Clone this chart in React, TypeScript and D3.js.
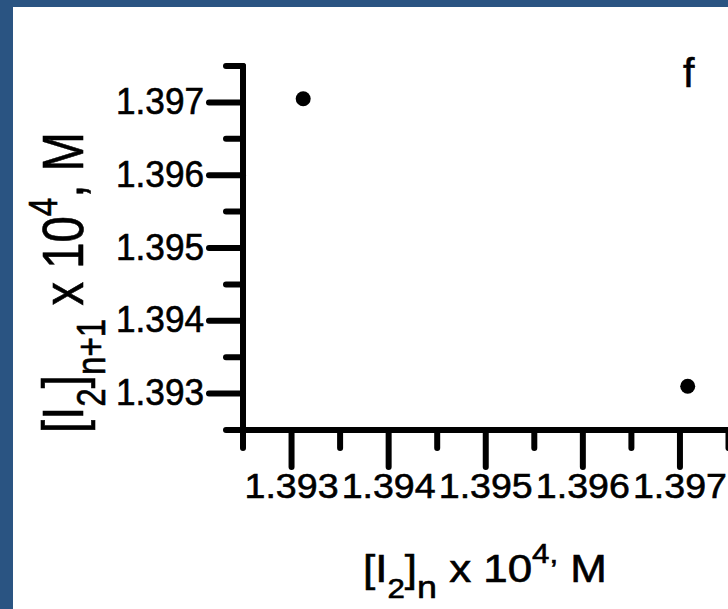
import React, { useEffect, useRef } from "react";
import * as d3 from "d3";

const W = 728;
const H = 609;

const majorTicks = [1.393, 1.394, 1.395, 1.396, 1.397];
const minorTicks = [1.3925, 1.3935, 1.3945, 1.3955, 1.3965, 1.3975];
const xTickLabels = ["1.393", "1.394", "1.395", "1.396", "1.397"];
const yTickLabels = ["1.393", "1.394", "1.395", "1.396", "1.397"];
const xValues = [1.39312, 1.39708];
const yValues = [1.39705, 1.3931];
const panelLabel = "f";

export default function App() {
  const ref = useRef<SVGSVGElement | null>(null);

  useEffect(() => {
    const svg = d3.select(ref.current);
    svg.selectAll("*").remove();
    const font = "'Liberation Sans', Arial, sans-serif";

    svg.append("rect").attr("width", W).attr("height", H).attr("fill", "#2a5482");
    svg.append("rect").attr("x", 13).attr("y", 7).attr("width", W - 13).attr("height", H - 7).attr("fill", "#ffffff");

    const x = d3.scaleLinear().domain([1.3925, 1.3975]).range([243, 728.5]);
    const y = d3.scaleLinear().domain([1.3925, 1.3975]).range([430, 66]);
    const x0 = x(1.3925);
    const y0 = y(1.3925);

    const g = svg.append("g").attr("stroke", "#000").attr("stroke-linecap", "round").attr("stroke-width", 6);
    g.append("line").attr("x1", x0).attr("x2", x0).attr("y1", y(1.3975)).attr("y2", y0);
    g.append("line").attr("x1", x0).attr("x2", x(1.3975)).attr("y1", y0).attr("y2", y0);
    majorTicks.forEach((v) => {
      g.append("line").attr("x1", x0 - 34).attr("x2", x0).attr("y1", y(v)).attr("y2", y(v));
      g.append("line").attr("x1", x(v)).attr("x2", x(v)).attr("y1", y0).attr("y2", y0 + 37);
    });
    minorTicks.forEach((v) => {
      g.append("line").attr("x1", x0 - 17).attr("x2", x0).attr("y1", y(v)).attr("y2", y(v));
      g.append("line").attr("x1", x(v)).attr("x2", x(v)).attr("y1", y0).attr("y2", y0 + 18);
    });

    const txt = (sel: any) =>
      sel.attr("font-family", font).attr("fill", "#000").attr("stroke", "#000").attr("stroke-width", 0.6);

    yTickLabels.forEach((t, i) => {
      txt(svg.append("text")).attr("x", 204).attr("y", y(majorTicks[i]) + 11.5)
        .attr("text-anchor", "end").attr("font-size", 36.5)
        .attr("textLength", 88).attr("lengthAdjust", "spacingAndGlyphs").text(t);
    });
    xTickLabels.forEach((t, i) => {
      txt(svg.append("text")).attr("x", x(majorTicks[i])).attr("y", 497.5)
        .attr("text-anchor", "middle").attr("font-size", 35.5)
        .attr("textLength", 94).attr("lengthAdjust", "spacingAndGlyphs").text(t);
    });

    svg.selectAll("circle.pt").data(xValues).enter().append("circle")
      .attr("cx", (d) => x(d)).attr("cy", (_d, i) => y(yValues[i])).attr("r", 7.5).attr("fill", "#000");

    txt(svg.append("text")).attr("x", 683).attr("y", 87).attr("font-size", 41).text(panelLabel);

    // x title
    const xt = txt(svg.append("text")).attr("font-size", 38).attr("text-anchor", "middle");
    xt.append("tspan").text("[I");
    xt.append("tspan").attr("font-size", 27).attr("dy", 16).text("2");
    xt.append("tspan").attr("dy", -16).text("]");
    xt.append("tspan").attr("font-size", 31).attr("dy", 16).text("n");
    xt.append("tspan").attr("dy", -16).text(" x 10");
    xt.append("tspan").attr("font-size", 27).attr("dy", -19).text("4,");
    xt.append("tspan").attr("dy", 19).text(" M");
    const xb = (xt.node() as SVGTextElement).getBBox();
    const sx = 244 / xb.width;
    xt.attr("transform", `translate(485,582) scale(${sx},1)`);

    // y title
    const yt = txt(svg.append("text")).attr("font-size", 57).attr("text-anchor", "middle");
    yt.append("tspan").text("[I");
    yt.append("tspan").attr("font-size", 40).attr("dy", 22).text("2");
    yt.append("tspan").attr("dy", -22).text("]");
    yt.append("tspan").attr("font-size", 40).attr("dy", 22).text("n+1");
    yt.append("tspan").attr("dy", -22).text(" x 10");
    yt.append("tspan").attr("font-size", 40).attr("dy", -26).text("4");
    yt.append("tspan").attr("dy", 26).text(", M");
    const yb = (yt.node() as SVGTextElement).getBBox();
    const sy = 301 / yb.width;
    yt.attr("transform", `translate(83,282.5) rotate(-90) scale(${sy},1)`);
  }, []);

  return (
    <div style={{ position: "fixed", left: 0, top: 0, width: W, height: H }}>
      <svg ref={ref} width={W} height={H} style={{ display: "block" }} />
    </div>
  );
}
